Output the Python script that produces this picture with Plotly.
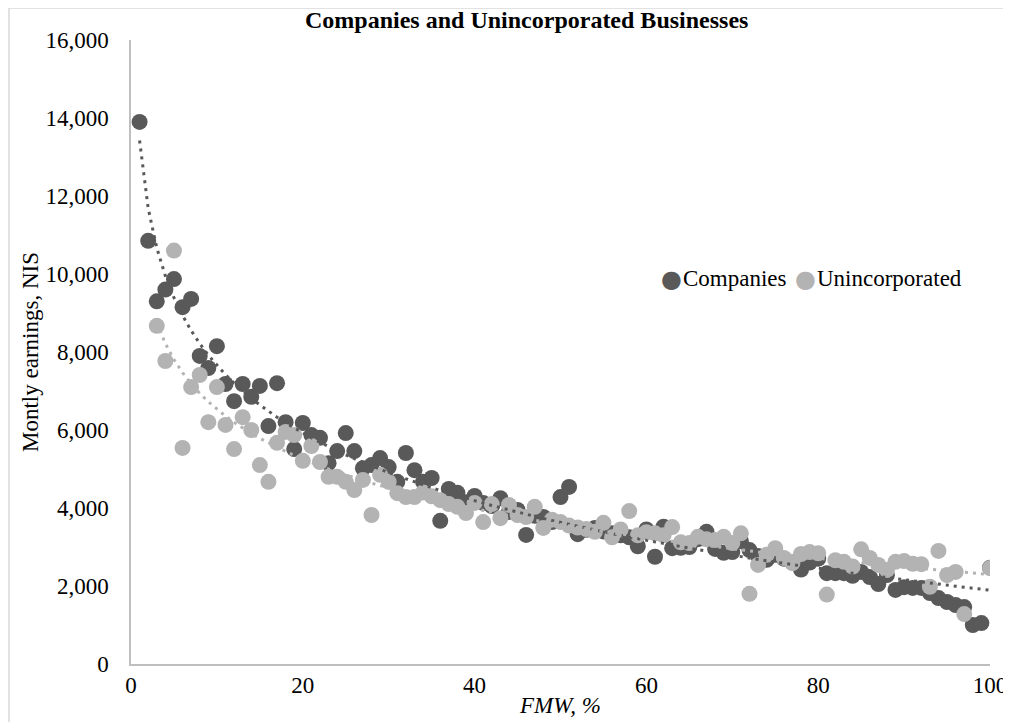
import numpy as np
import plotly.graph_objects as go

fmw = list(range(1, 101))

companies = [13900, 10850, 9300, 9600, 9870, 9150, 9360, 7900, 7590, 8150,
             7180, 6740, 7180, 6850, 7130, 6100, 7200, 6200, 5510, 6180,
             5870, 5800, 5150, 5460, 5920, 5460, 5020, 5100, 5280, 5050,
             4670, 5410, 4970, 4670, 4770, 3670, 4490, 4390, 4150, 4310,
             4130, 4050, 4250, 3900, 3950, 3310, 3800, 3770, 3640, 4280,
             4540, 3330, 3440, 3490, 3400, 3350, 3300, 3250, 3020, 3450,
             2750, 3520, 2970, 2980, 3000, 3200, 3390, 2950, 2850, 2870,
             3150, 2920, 2770, 2670, 2800, 2700, 2600, 2420, 2600, 2700,
             2330, 2330, 2330, 2260, 2360, 2230, 2050, 2280, 1900, 1970,
             1950, 1950, 1820, 1690, 1590, 1510, 1460, 1000, 1050, 2470]

unincorporated = [None, None, 8670, 7770, 10600, 5540, 7100, 7410, 6200, 7100,
                  6130, 5510, 6330, 6000, 5100, 4670, 5670, 5950, 5870, 5210,
                  5590, 5180, 4800, 4800, 4670, 4460, 4720, 3820, 4850, 4670,
                  4380, 4280, 4280, 4400, 4300, 4200, 4100, 4030, 3870, 4130,
                  3640, 4100, 3740, 4080, 3820, 3770, 4030, 3490, 3700, 3640,
                  3550, 3500, 3460, 3390, 3620, 3250, 3450, 3920, 3300, 3380,
                  3350, 3300, 3510, 3120, 3100, 3260, 3200, 3180, 3260, 3100,
                  3350, 1800, 2540, 2800, 2970, 2720, 2590, 2820, 2870, 2840,
                  1780, 2660, 2620, 2500, 2940, 2720, 2540, 2410, 2620, 2640,
                  2570, 2560, 1980, 2900, 2280, 2360, 1280, None, None, 2460]

series_names = ["Companies", "Unincorporated"]
x_ticks = [0, 20, 40, 60, 80, 100]
y_ticks = [0, 2000, 4000, 6000, 8000, 10000, 12000, 14000, 16000]

DARK = "#595959"
LIGHT = "#b3b3b3"
FONT = "Liberation Serif"


def log_trend(xs, ys):
    pairs = [(a, b) for a, b in zip(xs, ys) if b is not None]
    px = np.array([p[0] for p in pairs], dtype=float)
    py = np.array([p[1] for p in pairs], dtype=float)
    slope, inter = np.polyfit(np.log(px), py, 1)
    return px, inter + slope * np.log(px)


fig = go.Figure()
fig.add_trace(go.Scatter(x=fmw, y=companies, mode="markers", name=series_names[0],
                         marker=dict(color=DARK, size=16)))
fig.add_trace(go.Scatter(x=fmw, y=unincorporated, mode="markers", name=series_names[1],
                         marker=dict(color=LIGHT, size=16)))
tx, ty = log_trend(fmw, companies)
fig.add_trace(go.Scatter(x=tx, y=ty, mode="lines", showlegend=False, hoverinfo="skip",
                         line=dict(color=DARK, width=3, dash="3px,5px")))
tx2, ty2 = log_trend(fmw, unincorporated)
fig.add_trace(go.Scatter(x=tx2, y=ty2, mode="lines", showlegend=False, hoverinfo="skip",
                         line=dict(color=LIGHT, width=3, dash="3px,5px")))

# page body has an 8px default margin; work in screen pixels and convert
OFF = 8
W, H = 1011 - OFF, 722 - OFF
PX0, PX1, PY0, PY1 = 131, 990, 40, 664          # plot area in screen pixels
L, R = PX0 - OFF, W - (PX1 - OFF)
T, B = PY0 - OFF, H - (PY1 - OFF)
pw, ph = W - L - R, H - T - B


def px_x(p):
    return (p - PX0) / pw


def px_y(p):
    return (PY1 - p) / ph


leg_y = px_y(278)
annotations = [
    dict(text="<b>Companies and Unincorporated Businesses</b>", xref="paper", yref="paper",
         x=px_x(526), y=px_y(20), xanchor="center", yanchor="middle",
         showarrow=False, font=dict(size=24, family=FONT)),
    dict(text="●", xref="paper", yref="paper", x=px_x(671), y=px_y(279),
         xanchor="center", yanchor="middle", showarrow=False,
         font=dict(size=24, family="DejaVu Sans", color=DARK)),
    dict(text=series_names[0], xref="paper", yref="paper", x=px_x(681), y=leg_y,
         xanchor="left", yanchor="middle", showarrow=False, font=dict(size=23, family=FONT)),
    dict(text="●", xref="paper", yref="paper", x=px_x(805), y=px_y(279),
         xanchor="center", yanchor="middle", showarrow=False,
         font=dict(size=24, family="DejaVu Sans", color=LIGHT)),
    dict(text=series_names[1], xref="paper", yref="paper", x=px_x(815), y=leg_y,
         xanchor="left", yanchor="middle", showarrow=False, font=dict(size=23, family=FONT)),
]

fig.update_layout(
    width=W, height=H,
    margin=dict(l=L, r=R, t=T, b=B),
    paper_bgcolor="white", plot_bgcolor="white",
    font=dict(family=FONT, size=23, color="black"),
    showlegend=False,
    xaxis=dict(range=[0, 100], tickvals=x_ticks, showgrid=False, zeroline=False,
               showline=True, linecolor="#bfbfbf", linewidth=1.5, ticks="",
               automargin=False,
               title=dict(text="<i>FMW, %</i>", standoff=0, font=dict(size=23))),
    yaxis=dict(range=[0, 16000], tickvals=y_ticks, tickformat=",", showgrid=False,
               zeroline=False, showline=True, linecolor="#bfbfbf", linewidth=1.5,
               ticks="", automargin=False, ticklabelstandoff=16,
               title=dict(text="Montly earnings, NIS", standoff=0, font=dict(size=23))),
    annotations=annotations,
    shapes=[dict(type="line", xref="paper", yref="paper",
                 x0=px_x(9), x1=px_x(9), y0=px_y(740), y1=px_y(8),
                 line=dict(color="#d9d9d9", width=1.5)),
            dict(type="line", xref="paper", yref="paper",
                 x0=px_x(9), x1=px_x(1030), y0=px_y(8), y1=px_y(8),
                 line=dict(color="#d9d9d9", width=1.5))],
)

fig.write_html("out.html")
